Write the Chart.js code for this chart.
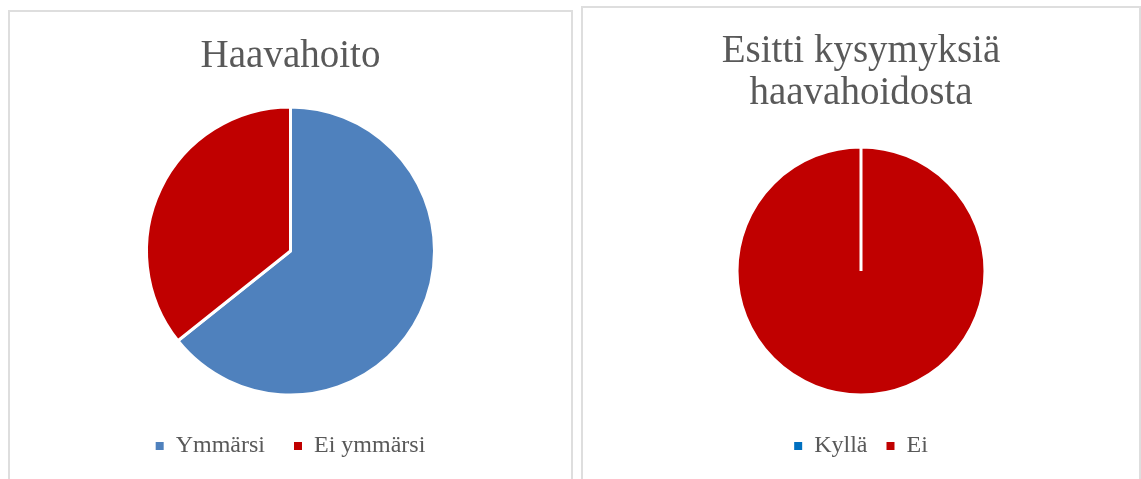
<!DOCTYPE html>
<html lang="fi">
<head>
<meta charset="utf-8">
<title>Haavahoito</title>
<script src="https://cdn.jsdelivr.net/npm/chart.js@4/dist/chart.umd.min.js"></script>
<style>
  html, body { margin: 0; padding: 0; background: #fff; overflow: hidden; }
  .box { position: absolute; border: 2px solid #dedede; background: #fff; }
  #box-left { left: 8px; top: 10px; width: 561px; height: 485px; }
  #box-right { left: 581px; top: 6px; width: 556px; height: 485px; }
  canvas { display: block; }
</style>
</head>
<body>
<div class="box" id="box-left"><canvas id="chart-left" width="561" height="456"></canvas></div>
<div class="box" id="box-right"><canvas id="chart-right" width="556" height="460"></canvas></div>
<script>
// Haavahoito: ymmärsikö potilas ohjeet
const leftLabels = ['Ymmärsi', 'Ei ymmärsi'];
const leftValues = [9, 5];
const leftColors = ['#4f81bd', '#c00000'];

// Esittikö potilas kysymyksiä
const rightLabels = ['Kyllä', 'Ei'];
const rightValues = [0, 14];
const rightColors = ['#0070c0', '#c00000'];

const textColor = '#595959';
const serif = "'Liberation Serif', 'Times New Roman', serif";

// legend boxes without the white slice border
function legendLabels(chart) {
  return Chart.overrides.pie.plugins.legend.labels.generateLabels(chart)
    .map(item => Object.assign(item, { lineWidth: 0 }));
}

function makePie(canvas, opts) {
  return new Chart(canvas, {
    type: 'pie',
    data: {
      labels: opts.labels,
      datasets: [{
        data: opts.values,
        backgroundColor: opts.colors,
        borderColor: '#ffffff',
        borderWidth: 3,
        radius: opts.radius
      }]
    },
    options: {
      responsive: false,
      animation: false,
      events: [],
      layout: { padding: 0 },
      plugins: {
        tooltip: { enabled: false },
        title: {
          display: true,
          text: opts.title,
          color: textColor,
          font: { family: serif, size: 39, weight: 'normal', lineHeight: '42px' },
          padding: opts.titlePadding
        },
        legend: {
          position: 'bottom',
          labels: {
            color: textColor,
            font: { family: serif, size: 24 },
            boxWidth: 8,
            boxHeight: 8,
            padding: opts.legendPadding,
            generateLabels: legendLabels
          }
        }
      }
    }
  });
}

makePie(document.getElementById('chart-left'), {
  labels: leftLabels,
  values: leftValues,
  colors: leftColors,
  title: 'Haavahoito',
  titlePadding: { top: 24, bottom: 19 },
  legendPadding: 29,
  radius: 144
});

makePie(document.getElementById('chart-right'), {
  labels: rightLabels,
  values: rightValues,
  colors: rightColors,
  title: ['Esitti kysymyksiä', 'haavahoidosta'],
  titlePadding: { top: 23, bottom: 12 },
  legendPadding: 19,
  radius: 124
});
</script>
</body>
</html>
